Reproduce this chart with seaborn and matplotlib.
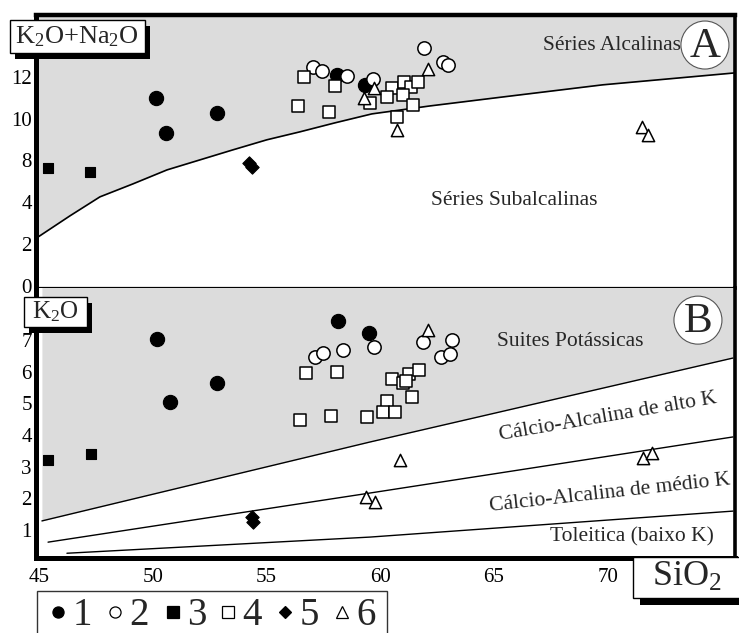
import numpy as np
import pandas as pd
import matplotlib
matplotlib.use("Agg")
import matplotlib.pyplot as plt
import seaborn as sns
from matplotlib.patches import Rectangle, Ellipse
from matplotlib.lines import Line2D

# ---------------- data ----------------
# Diagram A: total alkalis (K2O+Na2O) versus SiO2
g1_sio2_a = [50.14, 50.58, 52.82, 58.10, 59.33]
g1_alk = [11.00, 9.32, 10.28, 12.10, 11.62]
g2_sio2_a = [57.04, 57.44, 58.54, 59.68, 61.92, 62.76, 62.98]
g2_alk = [12.48, 12.29, 12.05, 11.90, 13.39, 12.72, 12.57]
g3_sio2_a = [45.40, 47.24]
g3_alk = [7.30, 6.91]
g4_sio2_a = [56.65, 58.01, 56.40, 57.76, 59.55, 60.50, 60.31, 61.04, 61.34,
             61.67, 61.01, 61.43, 60.72]
g4_alk = [11.99, 11.58, 10.63, 10.31, 10.74, 11.46, 11.06, 11.75, 11.52,
          11.75, 11.11, 10.66, 10.10]
g5_sio2_a = [54.23, 54.36]
g5_alk = [7.77, 7.39]
g6_sio2_a = [59.29, 59.73, 62.10, 60.74, 71.51, 71.77]
g6_alk = [11.00, 11.47, 12.38, 9.46, 9.61, 9.22]

# Diagram B: K2O versus SiO2
g1_sio2_b = [50.19, 50.76, 52.82, 58.14, 59.51]
g1_k2o = [7.03, 5.04, 5.64, 7.60, 7.22]
g2_sio2_b = [57.13, 57.48, 58.36, 59.73, 61.88, 62.67, 63.07, 63.15]
g2_k2o = [6.46, 6.59, 6.69, 6.78, 6.94, 6.46, 6.56, 7.00]
g3_sio2_b = [45.40, 47.29]
g3_k2o = [3.21, 3.40]
g4_sio2_b = [56.74, 58.11, 56.47, 57.82, 59.43, 60.50, 61.01, 61.28, 61.72,
             61.38, 60.28, 60.11, 60.65, 61.13]
g4_k2o = [5.97, 6.00, 4.47, 4.61, 4.58, 5.77, 5.63, 5.93, 6.05,
          5.19, 5.08, 4.74, 4.74, 5.71]
g5_sio2_b = [54.36, 54.41]
g5_k2o = [1.41, 1.25]
g6_sio2_b = [62.10, 60.87, 71.55, 71.95, 59.37, 59.77]
g6_k2o = [7.32, 3.21, 3.27, 3.43, 2.04, 1.88]

# Alkaline / subalkaline divide
alk_line_sio2 = [44.96, 46.36, 47.68, 49.13, 50.63, 52.08, 53.53, 55.02,
                 56.47, 58.01, 59.64, 62.19, 65.40, 69.79, 75.59]
alk_line_val = [2.34, 3.35, 4.52, 5.76, 7.10, 8.03, 8.51, 8.99,
                9.37, 9.80, 10.23, 10.61, 11.04, 11.62, 12.19]

# K2O series boundaries
hk_sio2 = [45.13, 59.55, 75.51]
hk_k2o = [1.29, 3.78, 6.43]
mk_sio2 = [45.40, 59.55, 75.51]
mk_k2o = [0.62, 2.17, 3.94]
lk_sio2 = [46.23, 59.55, 75.51]
lk_k2o = [0.27, 0.78, 1.60]

# Tick labels
alk_ticks = [0, 2, 4, 8, 10, 12]
k2o_ticks = [1, 2, 3, 4, 5, 6, 7]
sio2_ticks = [45, 50, 55, 60, 65, 70]
sio2_ticks_top = [50, 55, 60, 65, 70, 75]
group_labels = ["1", "2", "3", "4", "5", "6"]

# ---------------- style ----------------
sns.set_theme(style="white")
plt.rcParams["font.family"] = ["Liberation Serif", "DejaVu Serif"]
plt.rcParams["mathtext.fontset"] = "custom"
plt.rcParams["mathtext.rm"] = "Liberation Serif"
plt.rcParams["mathtext.it"] = "Liberation Serif:italic"
plt.rcParams["mathtext.bf"] = "Liberation Serif:bold"

SHADE = "#dcdcdc"
W, H = 739, 633

marker_styles = {
    "1": dict(marker="o", s=105, color="black", edgecolor="black", linewidth=0.8),
    "2": dict(marker="o", s=92, color="white", edgecolor="black", linewidth=1.1),
    "3": dict(marker="s", s=62, color="black", edgecolor="black", linewidth=0.8),
    "4": dict(marker="s", s=72, color="white", edgecolor="black", linewidth=1.1),
    "5": dict(marker="D", s=46, color="black", edgecolor="black", linewidth=0.8),
    "6": dict(marker="^", s=78, color="white", edgecolor="black", linewidth=1.1),
}


def long_table(pairs, ycol):
    frames = []
    for lab, (xs, ys) in zip(group_labels, pairs):
        frames.append(pd.DataFrame({"SiO2": xs, ycol: ys, "grupo": lab}))
    return pd.concat(frames, ignore_index=True)


df_a = long_table([(g1_sio2_a, g1_alk), (g2_sio2_a, g2_alk), (g3_sio2_a, g3_alk),
                   (g4_sio2_a, g4_alk), (g5_sio2_a, g5_alk), (g6_sio2_a, g6_alk)],
                  "alcalis")
df_b = long_table([(g1_sio2_b, g1_k2o), (g2_sio2_b, g2_k2o), (g3_sio2_b, g3_k2o),
                   (g4_sio2_b, g4_k2o), (g5_sio2_b, g5_k2o), (g6_sio2_b, g6_k2o)],
                  "K2O")

# the alkali axis has evenly spaced ticks labelled 0, 2, 4, 8, 10, 12
_vals = np.array([-20.0] + alk_ticks + [40.0])
_slots = np.array([-10.0, 0, 1, 2, 3, 4, 5, 19.0])


def alk_forward(v):
    return np.interp(v, _vals, _slots)


def alk_inverse(p):
    return np.interp(p, _slots, _vals)


def fx(px):
    return px / W


def fy(py):
    return 1 - py / H


fig = plt.figure(figsize=(W / 100, H / 100), dpi=100)
ax_a = fig.add_axes([fx(36), fy(288), (735 - 36) / W, (288 - 15) / H])
ax_b = fig.add_axes([fx(36), fy(558), (735 - 36) / W, (558 - 288) / H])

for ax in (ax_a, ax_b):
    ax.set_facecolor("white")
    ax.set_xlim(44.87, 75.6)
    for sp in ax.spines.values():
        sp.set_color("black")
    ax.tick_params(direction="in", length=5, width=1.0, labelsize=15,
                   colors="black", pad=3)

# ---------------- diagram A ----------------
ax_a.set_yscale("function", functions=(alk_forward, alk_inverse))
ax_a.set_ylim(-0.1, 14.96)
ax_a.fill_between(alk_line_sio2, alk_line_val, 20, color=SHADE, lw=0, zorder=0)
sns.lineplot(x=alk_line_sio2, y=alk_line_val, ax=ax_a, color="black",
             lw=1.2, sort=False, estimator=None, zorder=2)
for lab in group_labels:
    sub = df_a[df_a["grupo"] == lab]
    sns.scatterplot(data=sub, x="SiO2", y="alcalis", ax=ax_a, legend=False,
                    zorder=3, **marker_styles[lab])
ax_a.set_yticks(alk_ticks)
ax_a.set_yticklabels([str(t) for t in alk_ticks])
ax_a.set_xticks(sio2_ticks_top)
ax_a.tick_params(axis="x", labelbottom=False)
ax_a.set_xlabel("")
ax_a.set_ylabel("")
ax_a.spines["top"].set_linewidth(3.2)
ax_a.spines["left"].set_linewidth(3.6)
ax_a.spines["right"].set_linewidth(2.6)
ax_a.spines["bottom"].set_linewidth(1.6)

ax_a.text(0.824, 0.890, "Séries Alcalinas", transform=ax_a.transAxes,
          ha="center", va="center", fontsize=15.5)
ax_a.text(0.684, 0.322, "Séries Subalcalinas", transform=ax_a.transAxes,
          ha="center", va="center", fontsize=15.5)
ax_a.add_patch(Ellipse((0.957, 0.890), 48 / 699, 48 / 273, transform=ax_a.transAxes,
                       facecolor="white", edgecolor="#555555", lw=0.8, zorder=4))
ax_a.text(0.957, 0.885, "A", transform=ax_a.transAxes, ha="center", va="center",
          fontsize=31, zorder=5)

# ---------------- diagram B ----------------
ax_b.set_ylim(0.12, 8.64)
ax_b.fill_between(hk_sio2, hk_k2o, 10, color=SHADE, lw=0, zorder=0)
for xs, ys in ((hk_sio2, hk_k2o), (mk_sio2, mk_k2o), (lk_sio2, lk_k2o)):
    sns.lineplot(x=xs, y=ys, ax=ax_b, color="black", lw=1.0, sort=False,
                 estimator=None, zorder=2)
for lab in group_labels:
    sub = df_b[df_b["grupo"] == lab]
    sns.scatterplot(data=sub, x="SiO2", y="K2O", ax=ax_b, legend=False,
                    zorder=3, **marker_styles[lab])
ax_b.set_yticks(k2o_ticks)
ax_b.set_yticklabels([str(t) for t in k2o_ticks])
ax_b.set_xticks(sio2_ticks)
ax_b.set_xticklabels([str(t) for t in sio2_ticks])
ax_b.tick_params(axis="x", pad=7)
ax_b.set_xlabel("")
ax_b.set_ylabel("")
ax_b.spines["top"].set_visible(False)
ax_b.spines["left"].set_linewidth(3.6)
ax_b.spines["right"].set_linewidth(2.6)
ax_b.spines["bottom"].set_linewidth(3.6)

ax_b.text(0.764, 0.800, "Suites Potássicas", transform=ax_b.transAxes,
          ha="center", va="center", fontsize=15.5)
ax_b.text(0.818, 0.522, "Cálcio-Alcalina de alto K", transform=ax_b.transAxes,
          ha="center", va="center", fontsize=15.5, rotation=9.7,
          rotation_mode="anchor")
ax_b.text(0.821, 0.241, "Cálcio-Alcalina de médio K", transform=ax_b.transAxes,
          ha="center", va="center", fontsize=15.5, rotation=6.3,
          rotation_mode="anchor")
ax_b.text(0.853, 0.078, "Toleitica (baixo K)", transform=ax_b.transAxes,
          ha="center", va="center", fontsize=15.5)
ax_b.add_patch(Ellipse((0.947, 0.881), 48 / 699, 48 / 270, transform=ax_b.transAxes,
                       facecolor="white", edgecolor="#555555", lw=0.8, zorder=4))
ax_b.text(0.947, 0.876, "B", transform=ax_b.transAxes, ha="center", va="center",
          fontsize=31, zorder=5)


# ---------------- boxed axis titles ----------------
def shadow_box(x0, y0, x1, y1, dx, dy, label, size, cx, cy):
    fig.add_artist(Rectangle((fx(x0 + dx), fy(y1 + dy)), (x1 - x0) / W,
                             (y1 - y0) / H, transform=fig.transFigure,
                             facecolor="black", edgecolor="none", zorder=6))
    fig.add_artist(Rectangle((fx(x0), fy(y1)), (x1 - x0) / W, (y1 - y0) / H,
                             transform=fig.transFigure, facecolor="white",
                             edgecolor="black", lw=1.0, zorder=7))
    fig.text(fx(cx), fy(cy), label, ha="center", va="center", fontsize=size,
             zorder=8)


shadow_box(10, 20, 145, 53, 5, 6, r"$\mathrm{K_2O{+}Na_2O}$", 19, 77, 37)
shadow_box(24, 297, 87, 327, 5, 6, r"$\mathrm{K_2O}$", 18, 55, 312)

# SiO2 box in the lower right corner
fig.add_artist(Rectangle((fx(640), fy(605)), (760 - 640) / W, 7 / H,
                         transform=fig.transFigure, facecolor="black",
                         edgecolor="none", zorder=6))
fig.add_artist(Rectangle((fx(633), fy(598)), (760 - 633) / W, (598 - 557) / H,
                         transform=fig.transFigure, facecolor="white",
                         edgecolor="black", lw=1.0, zorder=7))
fig.text(fx(687), fy(577), r"$\mathrm{SiO_2}$", ha="center", va="center",
         fontsize=26, zorder=8)

# ---------------- legend strip ----------------
fig.add_artist(Rectangle((fx(37), fy(660)), (387 - 37) / W, (660 - 591) / H,
                         transform=fig.transFigure, facecolor="white",
                         edgecolor="#333333", lw=1.0, zorder=6))
leg_marker_x = [58, 115, 173, 228, 285, 342]
for lab, mx in zip(group_labels, leg_marker_x):
    st = marker_styles[lab]
    fig.add_artist(Line2D([fx(mx)], [fy(612)], transform=fig.transFigure,
                          marker=st["marker"],
                          markersize=8 if st["marker"] != "D" else 6.5,
                          markerfacecolor=st["color"], markeredgecolor="black",
                          markeredgewidth=0.9, linestyle="none", zorder=7))
    fig.text(fx(mx + 24), fy(625), lab, ha="center", va="baseline",
             fontsize=28, zorder=7)

fig.savefig("out.png", dpi=100)
